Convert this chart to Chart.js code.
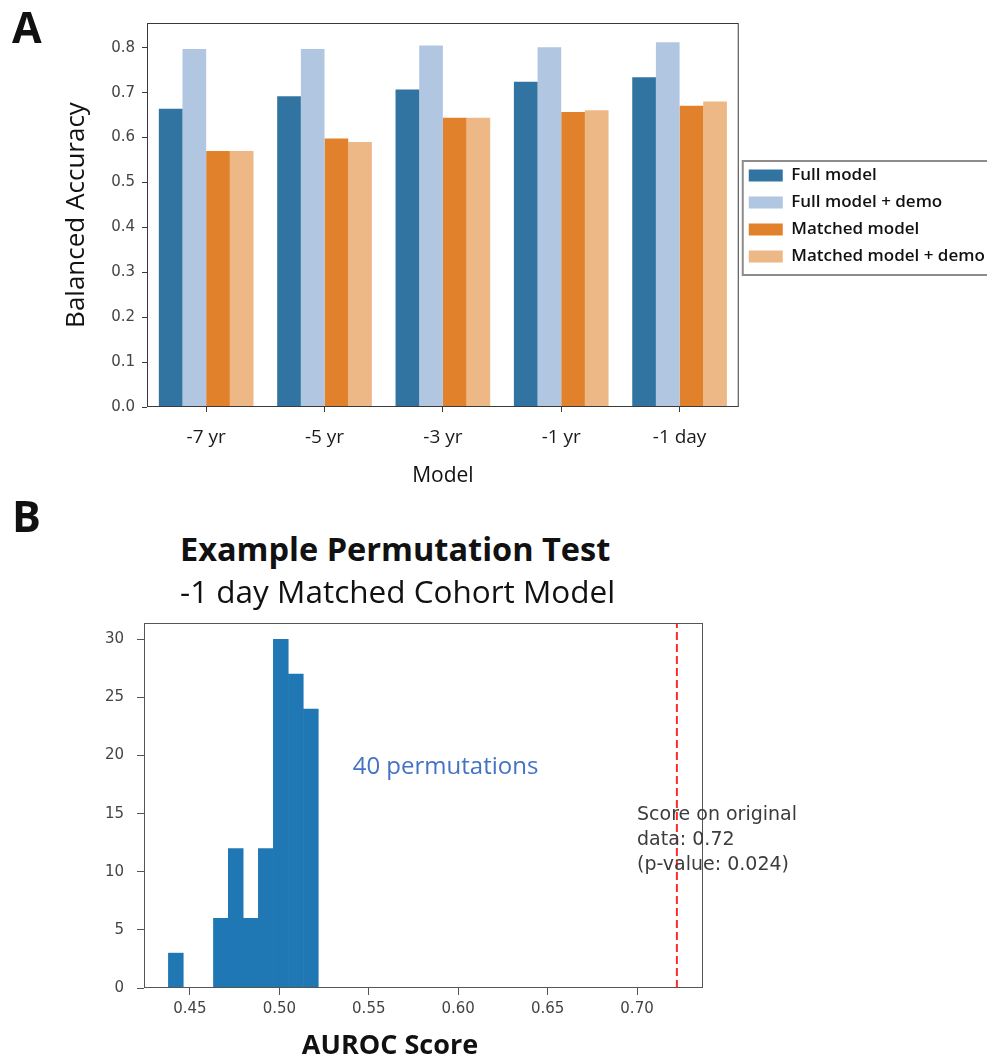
<!DOCTYPE html>
<html>
<head>
<meta charset="utf-8">
<title>Balanced accuracy and permutation test</title>
<script src="https://cdn.jsdelivr.net/npm/chart.js@4.4.1/dist/chart.umd.min.js"></script>
<style>
  body { margin: 0; background: #fff; }
  #page { position: relative; width: 987px; height: 1061px; overflow: hidden; font-family: "Open Sans", sans-serif; color: #111; }
  canvas { position: absolute; left: 0; }
  #chartA { top: 0; }
  #chartB { top: 590px; }
  .txt { position: absolute; line-height: 1; white-space: nowrap; }
  .panel { font-weight: 700; font-size: 43px; left: 12px; }
  #titleB { left: 180px; top: 533px; font-size: 32.5px; font-weight: 700; }
  #subtitleB { left: 180px; top: 575px; font-size: 31.5px; }
  #xTitleB { left: 390px; top: 1030px; font-size: 27px; font-weight: 700; transform: translateX(-50%); }
</style>
</head>
<body>
<div id="page">
  <canvas id="chartA" width="987" height="495"></canvas>
  <canvas id="chartB" width="987" height="471"></canvas>
  <div class="txt panel" style="top:5px">A</div>
  <div class="txt panel" style="top:494px">B</div>
  <div class="txt" id="titleB">Example Permutation Test</div>
  <div class="txt" id="subtitleB">-1 day Matched Cohort Model</div>
  <div class="txt" id="xTitleB">AUROC Score</div>
</div>
<script>
// panel A: balanced accuracy per model horizon
const categories = ['-7 yr', '-5 yr', '-3 yr', '-1 yr', '-1 day'];
const seriesNames = ['Full model', 'Full model + demo', 'Matched model', 'Matched model + demo'];
const fullModel = [0.664, 0.692, 0.707, 0.724, 0.734];
const fullModelDemo = [0.797, 0.797, 0.805, 0.801, 0.812];
const matchedModel = [0.570, 0.598, 0.644, 0.657, 0.671];
const matchedModelDemo = [0.570, 0.590, 0.644, 0.661, 0.680];
const accuracyTicks = [0, 0.1, 0.2, 0.3, 0.4, 0.5, 0.6, 0.7, 0.8];
const accuracyMax = 0.855;

// panel B: permutation histogram
const binCenters = [0.4421, 0.4505, 0.4589, 0.4673, 0.4756, 0.4840, 0.4924, 0.5008, 0.5092, 0.5176];
const binCounts = [3, 0, 0, 6, 12, 6, 12, 30, 27, 24];
const originalScore = 0.7223;
const aurocTicks = [0.45, 0.50, 0.55, 0.60, 0.65, 0.70];
const aurocMin = 0.4243, aurocMax = 0.7369;
const countTicks = [0, 5, 10, 15, 20, 25, 30];
const countMax = 31.4;
const permLabel = '40 permutations';
const scoreLabel = ['Score on original', 'data: 0.72', '(p-value: 0.024)'];

const colors = ['#3274A1', '#B1C6E0', '#E1812C', '#EDB886'];
const tickFont = { family: '"DejaVu Sans", sans-serif', size: 15 };

Chart.defaults.font.family = '"Open Sans", sans-serif';
Chart.defaults.color = '#444';

// box round the plot area, like matplotlib spines
const frame = {
    id: 'frame',
    afterDatasetsDraw(chart, args, opts) {
        const { ctx, chartArea: a } = chart;
        ctx.save();
        ctx.strokeStyle = opts.color;
        ctx.lineWidth = 1;
        ctx.strokeRect(a.left + 0.5, a.top + 0.5, a.width - 1, a.height - 1);
        ctx.restore();
    }
};

const legendBorder = {
    id: 'legendBorder',
    afterDraw(chart) {
        const boxes = chart.legend.legendHitBoxes;
        if (!boxes.length) return;
        const left = Math.min(...boxes.map(b => b.left)) - 6;
        const top = Math.min(...boxes.map(b => b.top)) - 6;
        const bottom = Math.max(...boxes.map(b => b.top + b.height)) + 10;
        const ctx = chart.ctx;
        ctx.save();
        ctx.strokeStyle = '#8c8c8c';
        ctx.lineWidth = 2;
        ctx.strokeRect(left, top, chart.width - left + 10, bottom - top);
        ctx.restore();
    }
};

const notes = {
    id: 'notes',
    afterDraw(chart) {
        const { ctx, scales: { x, y } } = chart;
        ctx.save();
        ctx.textAlign = 'left';
        ctx.textBaseline = 'middle';
        ctx.font = '24px "Open Sans"';
        ctx.fillStyle = '#4472C4';
        ctx.fillText(permLabel, x.getPixelForValue(0.541), y.getPixelForValue(19));
        ctx.font = '19px "DejaVu Sans"';
        ctx.fillStyle = '#3c3c3c';
        const y0 = y.getPixelForValue(14.9);
        scoreLabel.forEach((line, i) => ctx.fillText(line, x.getPixelForValue(0.70), y0 + i * 25));
        ctx.restore();
    }
};

new Chart(document.getElementById('chartA'), {
    type: 'bar',
    data: {
        labels: categories,
        datasets: [fullModel, fullModelDemo, matchedModel, matchedModelDemo].map((values, i) => ({
            label: seriesNames[i],
            data: values,
            backgroundColor: colors[i],
            borderWidth: 0,
            categoryPercentage: 0.8,
            barPercentage: 1
        }))
    },
    options: {
        responsive: false,
        animation: false,
        devicePixelRatio: 1,
        layout: { padding: { top: 23, right: 2, bottom: 0, left: 0 } },
        plugins: {
            legend: {
                position: 'right',
                align: 'start',
                // empty title only pushes the entries down to where the reference has them
                title: { display: true, text: ' ', font: { size: 10 }, padding: { top: 122, bottom: 0 } },
                labels: {
                    boxWidth: 34,
                    boxHeight: 12,
                    padding: 10,
                    color: '#111',
                    font: { size: 17, weight: '600' }
                }
            },
            tooltip: { enabled: false },
            frame: { color: '#3a3a3a' }
        },
        scales: {
            x: {
                grid: { offset: false, drawOnChartArea: false, drawTicks: true, tickLength: 5, color: '#3a3a3a' },
                border: { display: false },
                ticks: { color: '#1a1a1a', font: { size: 19 }, padding: 14 },
                title: { display: true, text: 'Model', color: '#111', font: { size: 21 }, padding: { top: 0, bottom: 6 } },
                afterFit: s => { s.height = 88; }
            },
            y: {
                min: 0,
                max: accuracyMax,
                grid: { drawOnChartArea: false, drawTicks: true, tickLength: 5, color: '#3a3a3a' },
                border: { display: false },
                ticks: { color: '#444', font: tickFont, padding: 7, callback: v => v.toFixed(1) },
                afterBuildTicks: s => { s.ticks = accuracyTicks.map(v => ({ value: v })); },
                title: { display: true, text: 'Balanced Accuracy', color: '#111', font: { size: 26 }, padding: { top: 61, bottom: 0 } },
                afterFit: s => { s.width = 147; }
            }
        }
    },
    plugins: [frame, legendBorder]
});

new Chart(document.getElementById('chartB'), {
    type: 'bar',
    data: {
        datasets: [
            {
                type: 'line',
                data: [{ x: originalScore, y: 0 }, { x: originalScore, y: countMax }],
                borderColor: '#FF2B2B',
                borderWidth: 2,
                borderDash: [8, 4],
                pointRadius: 0,
                fill: false
            },
            {
                data: binCenters.map((x, i) => ({ x, y: binCounts[i] })),
                backgroundColor: '#1F77B4',
                borderWidth: 0,
                categoryPercentage: 1,
                barPercentage: 1
            }
        ]
    },
    options: {
        responsive: false,
        animation: false,
        devicePixelRatio: 1,
        layout: { padding: { top: 33, right: 284, bottom: 0, left: 0 } },
        plugins: {
            legend: { display: false },
            tooltip: { enabled: false },
            frame: { color: '#555' }
        },
        scales: {
            x: {
                type: 'linear',
                min: aurocMin,
                max: aurocMax,
                offset: false,
                grid: { offset: false, drawOnChartArea: false, drawTicks: true, tickLength: 7, color: '#555' },
                border: { display: false },
                ticks: { color: '#444', font: tickFont, padding: 5, callback: v => v.toFixed(2) },
                afterBuildTicks: s => { s.ticks = aurocTicks.map(v => ({ value: v })); },
                afterFit: s => { s.height = 73; }
            },
            y: {
                min: 0,
                max: countMax,
                grid: { drawOnChartArea: false, drawTicks: true, tickLength: 7, color: '#555' },
                border: { display: false },
                ticks: { color: '#444', font: tickFont, padding: 13 },
                afterBuildTicks: s => { s.ticks = countTicks.map(v => ({ value: v })); },
                afterFit: s => { s.width = 144; }
            }
        }
    },
    plugins: [frame, notes]
});
</script>
</body>
</html>
